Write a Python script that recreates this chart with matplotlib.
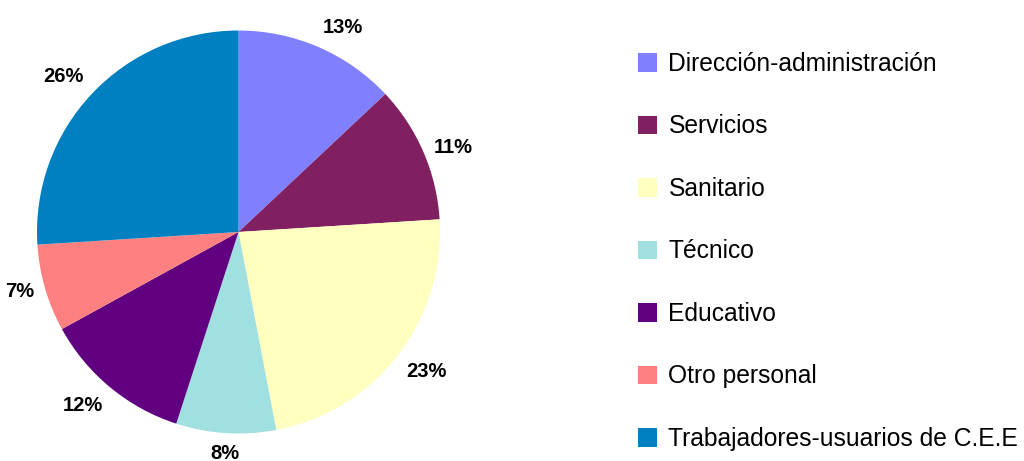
import numpy as np
import matplotlib
matplotlib.use('Agg')
import matplotlib.pyplot as plt

plt.rcParams['font.family'] = ['Liberation Sans', 'DejaVu Sans']

categorias = ['Dirección-administración', 'Servicios', 'Sanitario', 'Técnico',
              'Educativo', 'Otro personal', 'Trabajadores-usuarios de C.E.E']
porcentajes = [13, 11, 23, 8, 12, 7, 26]
colores = ['#8080ff', '#802060', '#ffffc0', '#a0e0e0', '#600080', '#ff8080', '#0080c0']

fig = plt.figure(figsize=(10.24, 4.61), dpi=100)
ax = fig.add_axes([37 / 1024, 27.5 / 461, 403 / 1024, 403 / 461])

wedges, _ = ax.pie(porcentajes, colors=colores, startangle=90, counterclock=False,
                   radius=1, wedgeprops=dict(linewidth=0))
ax.set_xlim(-1, 1)
ax.set_ylim(-1, 1)
ax.set_aspect('equal')
ax.axis('off')

# etiquetas de porcentaje fuera del pastel
total = sum(porcentajes)
for w, v in zip(wedges, porcentajes):
    ang = np.deg2rad((w.theta1 + w.theta2) / 2)
    c, s = np.cos(ang), np.sin(ang)
    ha = 'left' if c > 0.3 else ('right' if c < -0.3 else 'center')
    va = 'bottom' if s > 0.5 else ('top' if s < -0.5 else 'center')
    ax.text(1.055 * c, 1.055 * s, '%d%%' % round(100 * v / total), ha=ha, va=va,
            fontsize=14.5, fontweight='bold', color='black', clip_on=False)

fig.legend(wedges, categorias, loc='upper left', bbox_to_anchor=(638 / 1024, 1 - 52 / 461),
           frameon=False, fontsize=17.7, handlelength=0.78, handleheight=0.78,
           handletextpad=0.46, labelspacing=1.565, borderpad=0, borderaxespad=0)

fig.savefig('out.png', dpi=100)
